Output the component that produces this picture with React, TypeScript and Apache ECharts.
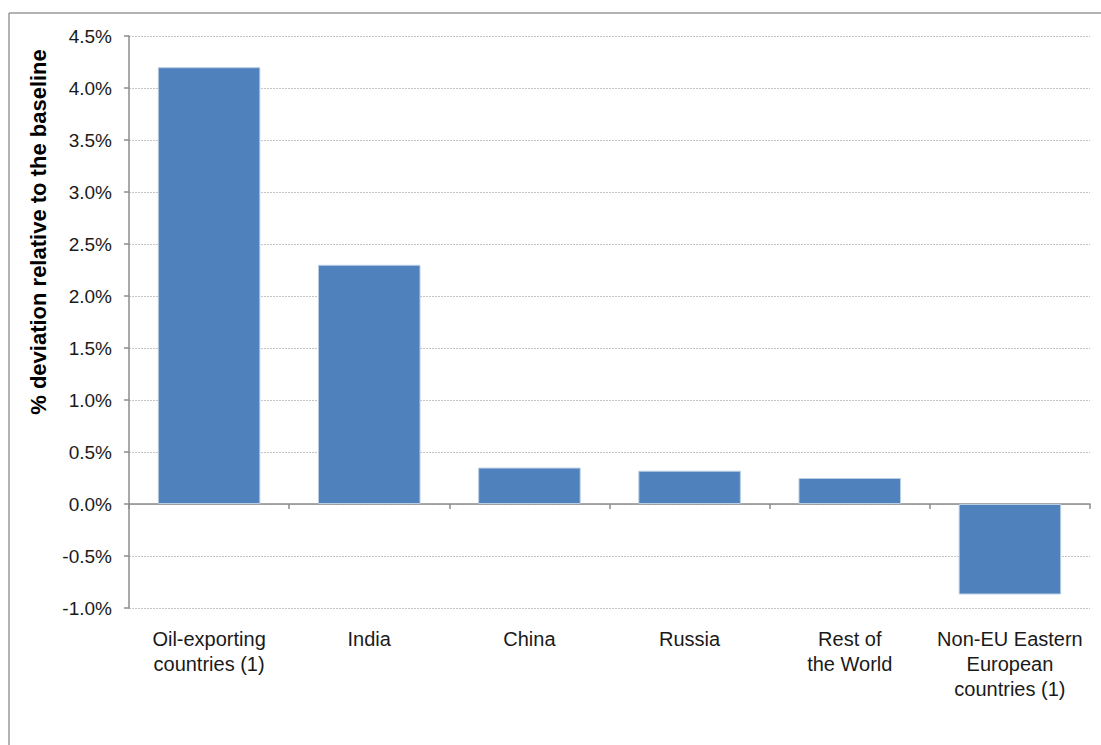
import React, { useEffect, useRef } from "react";
import * as echarts from "echarts";

const categories = [
  "Oil-exporting\ncountries (1)",
  "India",
  "China",
  "Russia",
  "Rest of\nthe World",
  "Non-EU Eastern\nEuropean\ncountries (1)",
];
const deviation = [4.2, 2.3, 0.35, 0.32, 0.25, -0.87];
const yMin = -1.0;
const yMax = 4.5;
const yStep = 0.5;
const yTitle = "% deviation relative to the baseline";

const FONT = "'Liberation Sans', Arial, sans-serif";

export default function App() {
  const ref = useRef<HTMLDivElement>(null);
  useEffect(() => {
    if (!ref.current) return;
    const chart = echarts.init(ref.current, null, { renderer: "svg" });
    chart.setOption({
      animation: false,
      backgroundColor: "#ffffff",
      grid: { left: 129, right: 11, top: 36, bottom: 137, containLabel: false },
      xAxis: [
        {
          type: "category",
          data: categories,
          position: "bottom",
          axisLine: { onZero: true, lineStyle: { color: "#8c8c8c", width: 1.5 } },
          axisTick: { show: true, length: 5, lineStyle: { color: "#8c8c8c", width: 1.5 } },
          axisLabel: { show: false },
          splitLine: { show: false },
        },
        {
          type: "category",
          data: categories,
          position: "bottom",
          axisLine: { show: false, onZero: false },
          axisTick: { show: false },
          axisLabel: {
            show: true,
            interval: 0,
            margin: 18,
            color: "#1a1a1a",
            fontFamily: FONT,
            fontSize: 20,
            lineHeight: 25,
            align: "center",
          },
          splitLine: { show: false },
        },
      ],
      yAxis: {
        type: "value",
        min: yMin,
        max: yMax,
        interval: yStep,
        axisLine: { show: true, lineStyle: { color: "#8c8c8c", width: 1.5 } },
        axisTick: { show: true, length: 5, lineStyle: { color: "#8c8c8c", width: 1.5 } },
        axisLabel: {
          margin: 17,
          color: "#1a1a1a",
          fontFamily: FONT,
          fontSize: 19,
          formatter: (v: number) => v.toFixed(1) + "%",
        },
        splitLine: {
          show: true,
          lineStyle: { color: "#c4c4c4", type: [2, 1], width: 1 },
        },
      },
      series: [
        {
          type: "bar",
          xAxisIndex: 0,
          data: deviation,
          barWidth: "64%",
          itemStyle: { color: "#4F81BD", borderColor: "#B9CDE5", borderWidth: 1 },
        },
      ],
      graphic: [
        {
          type: "line",
          shape: { x1: 9, y1: 13, x2: 1101, y2: 13 },
          style: { stroke: "#999999", lineWidth: 1.5 },
        },
        {
          type: "line",
          shape: { x1: 9, y1: 13, x2: 9, y2: 745 },
          style: { stroke: "#999999", lineWidth: 1.5 },
        },
        {
          type: "text",
          x: 38,
          y: 232,
          rotation: Math.PI / 2,
          style: {
            text: yTitle,
            fontFamily: FONT,
            fontSize: 22,
            fontWeight: "bold",
            fill: "#000000",
            align: "center",
            verticalAlign: "middle",
          },
        },
      ],
    });
    return () => chart.dispose();
  }, []);
  return (
    <div
      ref={ref}
      style={{ position: "absolute", left: 0, top: 0, width: 1101, height: 745 }}
    />
  );
}
